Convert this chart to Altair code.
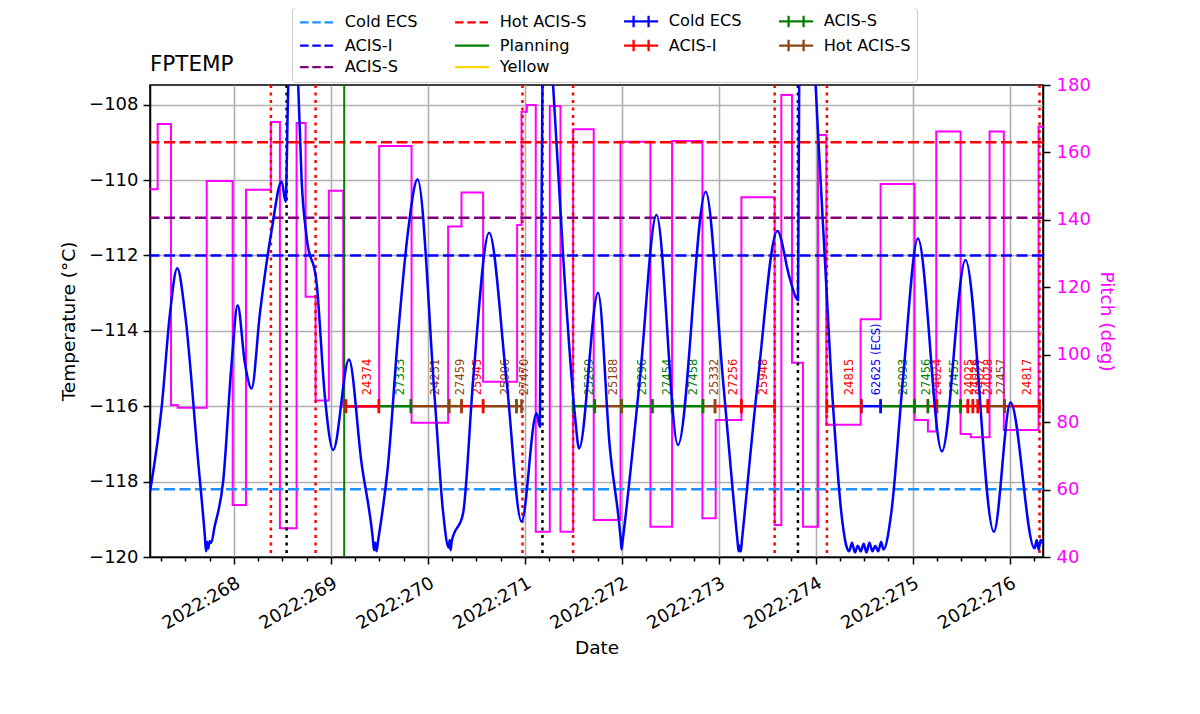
import altair as alt
import pandas as pd

# ---------------- data ----------------
# FPTEMP (deg C) versus day of year 2022
TEMP_DAY = [267.134, 267.255, 267.340, 267.415, 267.495, 267.632, 267.700, 267.712, 267.722, 267.735,
            267.748, 267.765, 267.800, 267.890, 267.976, 268.038, 268.113, 268.182, 268.268, 268.389,
            268.492, 268.533, 268.560, 268.603, 268.663, 268.698, 268.749, 268.853, 268.938, 269.024,
            269.186, 269.316, 269.430, 269.445, 269.458, 269.470, 269.485, 269.591, 269.694, 269.797,
            269.894, 270.072, 270.158, 270.215, 270.225, 270.235, 270.245, 270.364, 270.467, 270.632,
            270.811, 270.966, 271.121, 271.155, 271.182, 271.227, 271.292, 271.395, 271.515, 271.560,
            271.756, 271.876, 271.990, 271.998, 272.008, 272.186, 272.358, 272.580, 272.866, 273.044,
            273.195, 273.205, 273.216, 273.228, 273.240, 273.405, 273.605, 273.732, 273.818, 273.830,
            273.897, 274.000, 274.162, 274.265, 274.316, 274.345, 274.375, 274.405, 274.435, 274.465,
            274.495, 274.525, 274.555, 274.585, 274.615, 274.645, 274.675, 274.700, 274.780, 274.900,
            275.055, 275.302, 275.546, 275.838, 276.010, 276.258, 276.280, 276.300, 276.320, 276.345]
TEMP_VAL = [-118.27, -116.01, -113.54, -112.34, -113.53, -117.50, -119.45, -119.85, -119.60, -119.78,
            -119.58, -119.62, -119.20, -117.96, -114.85, -113.32, -114.86, -115.53, -113.53, -111.33,
            -110.04, -110.58, -107.50, -105.80, -107.50, -110.00, -111.50, -112.74, -115.75, -117.16,
            -114.76, -117.51, -119.45, -119.82, -119.62, -119.85, -119.60, -117.51, -114.07, -111.33,
            -109.98, -115.84, -118.83, -119.75, -119.55, -119.82, -119.60, -118.83, -115.30, -111.40,
            -115.30, -119.06, -116.19, -116.54, -107.50, -104.00, -107.50, -112.00, -116.19, -117.12,
            -112.99, -117.07, -119.55, -119.80, -119.60, -115.30, -110.93, -117.03, -110.31, -115.30,
            -119.60, -119.85, -119.70, -119.85, -119.55, -115.30, -111.35, -112.60, -113.18, -107.50,
            -102.00, -107.50, -115.30, -118.83, -119.70, -119.85, -119.62, -119.88, -119.70, -119.85,
            -119.65, -119.88, -119.62, -119.85, -119.70, -119.85, -119.60, -119.80, -118.83, -115.30,
            -111.55, -117.20, -112.12, -119.33, -115.90, -119.77, -119.55, -119.80, -119.55, -119.65]

# Pitch (deg), step changes
PITCH_DAY = [267.134, 267.213, 267.351, 267.420, 267.719, 267.987, 268.124, 268.381, 268.474, 268.646,
             268.739, 268.842, 268.979, 269.127, 269.498, 269.832, 270.209, 270.347, 270.570, 270.921,
             270.966, 271.021, 271.113, 271.258, 271.368, 271.498, 271.711, 271.987, 272.296, 272.519,
             272.832, 272.969, 273.234, 273.577, 273.646, 273.756, 273.869, 274.024, 274.110, 274.464,
             274.670, 275.021, 275.158, 275.244, 275.495, 275.600, 275.794, 275.941, 276.299, 276.345]
PITCH_VAL = [149.1, 168.4, 85.1, 84.3, 151.5, 55.4, 148.9, 169.0, 48.5, 168.7,
             117.2, 86.4, 148.6, 84.6, 161.9, 79.8, 138.0, 148.1, 92.0, 138.5,
             172.1, 174.1, 47.5, 173.8, 47.5, 166.9, 51.0, 163.2, 49.0, 163.4,
             51.5, 80.6, 146.7, 49.5, 177.0, 97.6, 49.0, 165.2, 79.2, 110.5,
             150.6, 80.6, 77.2, 166.2, 76.5, 75.5, 166.2, 77.7, 167.6, 167.6]

# Observations
OBSIDS = ["24374", "27333", "24251", "27459", "25945", "25906", "27470", "25269", "25188", "25296",
          "27454", "27458", "25332", "27256", "25948", "24815", "62625 (ECS)", "26093", "27456", "24024",
          "27455", "24025", "24026", "24027", "24028", "27457", "24817"]
OBS_START = [269.155, 269.495, 269.825, 270.220, 270.347, 270.570, 270.914, 271.498, 271.722, 271.997,
             272.316, 272.519, 272.838, 272.962, 273.234, 274.116, 274.471, 274.670, 275.021, 275.158,
             275.251, 275.495, 275.570, 275.622, 275.673, 275.776, 275.948]
OBS_STOP = [269.495, 269.825, 270.220, 270.347, 270.570, 270.914, 270.966, 271.722, 271.997, 272.316,
            272.519, 272.838, 272.962, 273.234, 273.577, 274.471, 274.670, 275.021, 275.158, 275.251,
            275.495, 275.570, 275.622, 275.673, 275.776, 275.948, 276.309]
OBS_INSTR = ["ACIS-I", "ACIS-S", "Hot ACIS-S", "Hot ACIS-S", "ACIS-I", "Hot ACIS-S", "Hot ACIS-S", "ACIS-S",
             "Hot ACIS-S", "ACIS-S", "ACIS-S", "ACIS-S", "Hot ACIS-S", "ACIS-I", "ACIS-I", "ACIS-I",
             "Cold ECS", "ACIS-S", "ACIS-S", "ACIS-I", "ACIS-S", "ACIS-I", "ACIS-I", "ACIS-I", "ACIS-I",
             "Hot ACIS-S", "ACIS-I"]
OBS_LEVEL = -116.0

# Limit lines (deg C)
LIMIT_NAMES = ["Cold ECS", "ACIS-I", "ACIS-S", "Hot ACIS-S"]
LIMIT_VALUES = [-118.2, -112.0, -111.0, -109.0]

# Vertical markers (day)
RED_DOTTED = [268.381, 268.842, 270.976, 271.498, 273.577, 274.116, 276.309]
BLACK_DOTTED = [268.543, 271.182, 273.817]
GREEN_LINE = [269.137]

# Ticks
X_MAJOR = list(range(268, 277))
X_QUARTERS = [267.25 + 0.25 * i for i in range(37)]
Y_TICKS = [-120, -118, -116, -114, -112, -110, -108]
P_TICKS = [40, 60, 80, 100, 120, 140, 160, 180]

# Legend entries (ordered so that Vega's column layout gives the reference's 4 columns)
LEG_LABELS = ["Cold ECS", "ACIS-I", "Hot ACIS-S", "Hot ACIS-S", "Planning",
              "ACIS-S", "Cold ECS", "ACIS-I", "Yellow", "ACIS-S"]
LEG_KIND = ["dash", "dash", "err", "dash", "solid",
            "dash", "err", "err", "solid", "err"]
LEG_COLORS = ["#1e90ff", "#0000ff", "#8b4513", "#ff0000", "#008000",
              "#800080", "#0000ff", "#ff0000", "#ffd700", "#008000"]

# ---------------- styles ----------------
INSTR_COLORS = {"ACIS-I": "#ff0000", "ACIS-S": "#008000", "Hot ACIS-S": "#8b4513", "Cold ECS": "#0000ff"}
LIMIT_COLORS = {"Cold ECS": "#1e90ff", "ACIS-I": "#0000ff", "ACIS-S": "#800080", "Hot ACIS-S": "#ff0000"}
PATHS = {"dash": "M-3.4,0L3.4,0", "solid": "M-3.4,0L3.4,0",
         "err": "M-3.4,0L3.4,0M-1.5,-1.15L-1.5,1.15M1.5,-1.15L1.5,1.15"}
DASHES = {"dash": [8.5, 3.7], "solid": [1, 0], "err": [1, 0]}

FONT = "DejaVu Sans"

temp_df = pd.DataFrame({"day": TEMP_DAY, "temp": TEMP_VAL})
pitch_df = pd.DataFrame({"day": PITCH_DAY, "pitch": PITCH_VAL})
obs_df = pd.DataFrame({"obsid": OBSIDS, "start": OBS_START, "stop": OBS_STOP, "instr": OBS_INSTR})
obs_df["color"] = obs_df["instr"].map(INSTR_COLORS)
obs_df["mid"] = (obs_df["start"] + obs_df["stop"]) / 2
caps_df = pd.concat([
    pd.DataFrame({"day": obs_df["start"], "color": obs_df["color"]}),
    pd.DataFrame({"day": obs_df["stop"], "color": obs_df["color"]}),
])
lim_df = pd.DataFrame({"name": LIMIT_NAMES, "val": LIMIT_VALUES})
lim_df["color"] = lim_df["name"].map(LIMIT_COLORS)
red_df = pd.DataFrame({"day": RED_DOTTED})
black_df = pd.DataFrame({"day": BLACK_DOTTED})
green_df = pd.DataFrame({"day": GREEN_LINE})
leg_keys = [f"{i:02d}|{lab}" for i, lab in enumerate(LEG_LABELS)]
leg_df = pd.DataFrame({"key": leg_keys})

# ---------------- scales and axes ----------------
x_scale = alt.Scale(domain=[267.134, 276.345], nice=False, zero=False)
t_scale = alt.Scale(domain=[-120, -107.48], nice=False, zero=False)
p_scale = alt.Scale(domain=[40, 180], nice=False, zero=False)

is_major = "datum.value % 1 === 0"
x_axis = alt.Axis(
    values=X_QUARTERS,
    labelExpr="datum.value % 1 === 0 ? '2022:' + datum.value : ''",
    labelAngle=-30, labelAlign="right", labelBaseline="top",
    labelFontSize=18, labelColor="black", labelOverlap=False, labelFlush=False, labelPadding=10,
    tickSize={"condition": {"test": is_major, "value": 7}, "value": 4},
    tickWidth=1.5, tickColor="black",
    domainColor="black", domainWidth=1.5,
    grid=True, gridColor="#b0b0b0", gridWidth=1.6,
    gridOpacity={"condition": {"test": is_major, "value": 1}, "value": 0},
    title="Date", titleFontSize=18.5, titleFontWeight="normal", titleColor="black", titlePadding=6,
)
y_axis = alt.Axis(
    orient="left", values=Y_TICKS, labelFontSize=18, labelColor="black", labelPadding=5,
    tickSize=7, tickWidth=1.5, tickColor="black", domainColor="black", domainWidth=1.5,
    grid=True, gridColor="#b0b0b0", gridWidth=1.6,
    title="Temperature (°C)", titleFontSize=18.5, titleFontWeight="normal", titleColor="black",
    titlePadding=10,
)
p_axis = alt.Axis(
    orient="right", values=P_TICKS, labelFontSize=18, labelColor="#ff00ff", labelPadding=6,
    tickSize=7, tickWidth=1.5, tickColor="black", domainColor="black", domainWidth=1.5,
    grid=False, title="Pitch (deg)", titleFontSize=18.5, titleFontWeight="normal",
    titleColor="#ff00ff", titlePadding=6,
)

X = lambda f: alt.X(f, scale=x_scale, axis=x_axis)

# ---------------- layers ----------------
pitch_line = alt.Chart(pitch_df).mark_line(
    color="#ff00ff", strokeWidth=2, interpolate="step-after"
).encode(x=X("day:Q"), y=alt.Y("pitch:Q", scale=p_scale, axis=p_axis))

limits = alt.Chart(lim_df).mark_rule(strokeWidth=2.5, strokeDash=[11, 4.5]).encode(
    y=alt.Y("val:Q", scale=t_scale, axis=y_axis),
    color=alt.Color("color:N", scale=None),
)

red_lines = alt.Chart(red_df).mark_rule(color="#ff0000", strokeWidth=2.5, strokeDash=[3, 4.5]).encode(x=X("day:Q"))
black_lines = alt.Chart(black_df).mark_rule(color="black", strokeWidth=2.5, strokeDash=[3, 4.5]).encode(x=X("day:Q"))
green_lines = alt.Chart(green_df).mark_rule(color="#008000", strokeWidth=2).encode(x=X("day:Q"))

obs_bars = alt.Chart(obs_df).mark_rule(strokeWidth=2.5).encode(
    x=X("start:Q"), x2="stop:Q",
    y=alt.Y(datum=OBS_LEVEL, scale=t_scale, axis=y_axis),
    color=alt.Color("color:N", scale=None),
)
obs_caps = alt.Chart(caps_df).mark_tick(orient="vertical", size=14, thickness=2.5, opacity=1).encode(
    x=X("day:Q"),
    y=alt.Y(datum=OBS_LEVEL, scale=t_scale, axis=y_axis),
    color=alt.Color("color:N", scale=None),
)
obs_text = alt.Chart(obs_df).mark_text(
    angle=270, align="left", baseline="top", dx=11, fontSize=11.5, font=FONT
).encode(
    x=X("mid:Q"),
    y=alt.Y(datum=OBS_LEVEL, scale=t_scale, axis=y_axis),
    text="obsid:N",
    color=alt.Color("color:N", scale=None),
)

temp_line = alt.Chart(temp_df).mark_line(
    color="#0000ff", strokeWidth=2.5, interpolate="monotone", clip=True
).encode(x=X("day:Q"), y=alt.Y("temp:Q", scale=t_scale, axis=y_axis))

legend = alt.Legend(
    title=None, orient="none", legendX=142, legendY=-78, columns=4,
    labelExpr="split(datum.label, '|')[1]", labelFontSize=16.2, labelFont=FONT, labelColor="black",
    symbolSize=100, symbolStrokeWidth=2.3, symbolOffset=11, labelOffset=19.5,
    strokeColor="#cccccc", fillColor="white", padding=6, cornerRadius=4,
    columnPadding=32, rowPadding=2.5,
)
leg_layer = alt.Chart(leg_df).mark_point(filled=False, opacity=1, clip=True, strokeWidth=2.3).encode(
    x=alt.X(datum=270, scale=x_scale, axis=x_axis),
    y=alt.Y(datum=-200, scale=t_scale, axis=y_axis),
    color=alt.Color("key:N", scale=alt.Scale(domain=leg_keys, range=LEG_COLORS), legend=legend),
    shape=alt.Shape("key:N", scale=alt.Scale(domain=leg_keys, range=[PATHS[k] for k in LEG_KIND]), legend=legend),
    strokeDash=alt.StrokeDash("key:N", scale=alt.Scale(domain=leg_keys, range=[DASHES[k] for k in LEG_KIND]), legend=legend),
)

temp_group = alt.layer(limits, red_lines, black_lines, green_lines,
                       obs_bars, obs_caps, obs_text, temp_line, leg_layer)

chart = alt.layer(pitch_line, temp_group).resolve_scale(y="independent").properties(
    width=893, height=472,
    title=alt.TitleParams("FPTEMP", anchor="start", frame="group", fontSize=21.5, fontWeight="normal",
                          font=FONT, color="black", offset=12, baseline="alphabetic", dy=98),
    padding={"left": 142, "top": 77, "right": 140, "bottom": 140},
    autosize=alt.AutoSizeParams(type="none"),
).configure(font=FONT).configure_view(stroke="black", strokeWidth=1.5).configure_axis(
    labelFont=FONT, titleFont=FONT
)

chart.save("out.html", embed_options={"renderer": "svg", "actions": False})
